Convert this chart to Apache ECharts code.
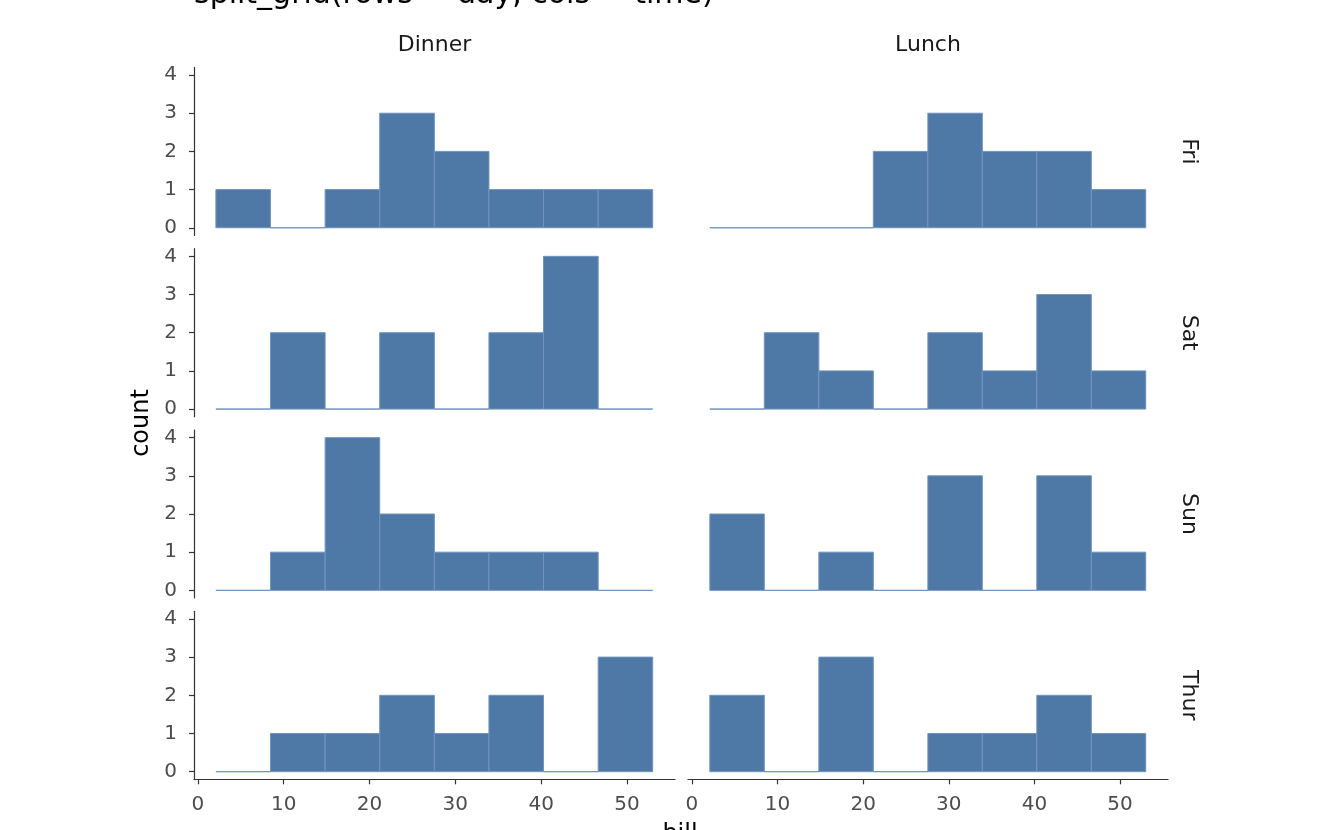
<!DOCTYPE html>
<html>
<head>
<meta charset="utf-8">
<script src="https://cdn.jsdelivr.net/npm/echarts@6/dist/echarts.min.js"></script>
<style>
html,body{margin:0;padding:0;background:#fff;}
#chart{width:1344px;height:830px;}
</style>
</head>
<body>
<div id="chart"></div>
<script>
// ---- data ----
const rowNames = ['Fri', 'Sat', 'Sun', 'Thur'];
const colNames = ['Dinner', 'Lunch'];
const binEdges = [2.1, 8.46, 14.83, 21.19, 27.56, 33.92, 40.28, 46.65, 53.0];
const friDinner  = [1, 0, 1, 3, 2, 1, 1, 1];
const friLunch   = [0, 0, 0, 2, 3, 2, 2, 1];
const satDinner  = [0, 2, 0, 2, 0, 2, 4, 0];
const satLunch   = [0, 2, 1, 0, 2, 1, 3, 1];
const sunDinner  = [0, 1, 4, 2, 1, 1, 1, 0];
const sunLunch   = [2, 0, 1, 0, 3, 0, 3, 1];
const thurDinner = [0, 1, 1, 2, 1, 2, 0, 3];
const thurLunch  = [2, 0, 3, 0, 1, 1, 2, 1];
const xTicks = [0, 10, 20, 30, 40, 50];
const yTicks = [0, 1, 2, 3, 4];
const titleText = 'split_grid(rows = day, cols = time)';
const xTitle = 'bill';
const yTitle = 'count';

const facetCounts = [
  [friDinner, friLunch],
  [satDinner, satLunch],
  [sunDinner, sunLunch],
  [thurDinner, thurLunch]
];

// ---- layout ----
const colLeft = [194, 688];
const colWidth = [481, 480];
const rowTop = [67.4, 248.7, 430, 611.3];
const rowHeight = 168;
const FONT = 'DejaVu Sans';

const grids = [], xAxes = [], yAxes = [], series = [], graphics = [];
let idx = 0;
for (let r = 0; r < 4; r++) {
  for (let c = 0; c < 2; c++) {
    grids.push({left: colLeft[c], top: rowTop[r], width: colWidth[c], height: rowHeight, containLabel: false});
    const bottomRow = r === 3;
    xAxes.push({
      type: 'value', gridIndex: idx, min: -0.45, max: 55.6, position: 'bottom',
      show: true,
      axisLine: {show: bottomRow, onZero: false, lineStyle: {color: '#333', width: 1.2}},
      axisTick: {show: bottomRow, length: 5, lineStyle: {color: '#333', width: 1.2}, customValues: xTicks},
      axisLabel: {show: bottomRow, customValues: xTicks, color: '#4d4d4d', fontSize: 20, fontFamily: FONT, margin: 15},
      splitLine: {show: false}
    });
    const leftCol = c === 0;
    yAxes.push({
      type: 'value', gridIndex: idx, min: -0.2, max: 4.2, position: 'left',
      show: true,
      axisLine: {show: leftCol, onZero: false, lineStyle: {color: '#333', width: 1.2}},
      axisTick: {show: leftCol, length: 5, lineStyle: {color: '#333', width: 1.2}, customValues: yTicks},
      axisLabel: {show: leftCol, customValues: yTicks, color: '#4d4d4d', fontSize: 20, fontFamily: FONT, margin: 17},
      splitLine: {show: false}
    });
    const counts = facetCounts[r][c];
    const data = counts.map((v, i) => [binEdges[i], binEdges[i + 1], v]);
    series.push({
      type: 'custom', xAxisIndex: idx, yAxisIndex: idx,
      encode: {x: [0, 1], y: 2},
      data: data,
      renderItem: function (params, api) {
        const p0 = api.coord([api.value(0), api.value(2)]);
        const p1 = api.coord([api.value(1), 0]);
        return {
          type: 'rect',
          shape: {x: p0[0], y: p0[1], width: p1[0] - p0[0], height: p1[1] - p0[1]},
          style: {fill: '#4e79a7', stroke: '#7194bd', lineWidth: 1}
        };
      }
    });
    idx++;
  }
}

// strip labels (columns)
for (let c = 0; c < 2; c++) {
  graphics.push({type: 'text', x: colLeft[c] + colWidth[c] / 2, y: 45.5,
    style: {text: colNames[c], fontSize: 22, fontFamily: FONT, fill: '#1a1a1a', align: 'center', verticalAlign: 'middle'}});
}
// strip labels (rows)
for (let r = 0; r < 4; r++) {
  graphics.push({type: 'text', x: 1189, y: rowTop[r] + rowHeight / 2, rotation: -Math.PI / 2,
    style: {text: rowNames[r], fontSize: 22, fontFamily: FONT, fill: '#1a1a1a', align: 'center', verticalAlign: 'middle'}});
}
// title
graphics.push({type: 'text', x: 194, y: -5,
  style: {text: titleText, fontSize: 30, fontFamily: FONT, fill: '#000', align: 'left', verticalAlign: 'middle'}});
// axis titles
graphics.push({type: 'text', x: 680, y: 835,
  style: {text: xTitle, fontSize: 24, fontFamily: FONT, fill: '#000', align: 'center', verticalAlign: 'middle'}});
graphics.push({type: 'text', x: 142, y: 423, rotation: Math.PI / 2,
  style: {text: yTitle, fontSize: 24, fontFamily: FONT, fill: '#000', align: 'center', verticalAlign: 'middle'}});

const chart = echarts.init(document.getElementById('chart'), null, {renderer: 'canvas'});
chart.setOption({
  backgroundColor: '#fff',
  animation: false,
  grid: grids,
  xAxis: xAxes,
  yAxis: yAxes,
  series: series,
  graphic: graphics
});
</script>
</body>
</html>
